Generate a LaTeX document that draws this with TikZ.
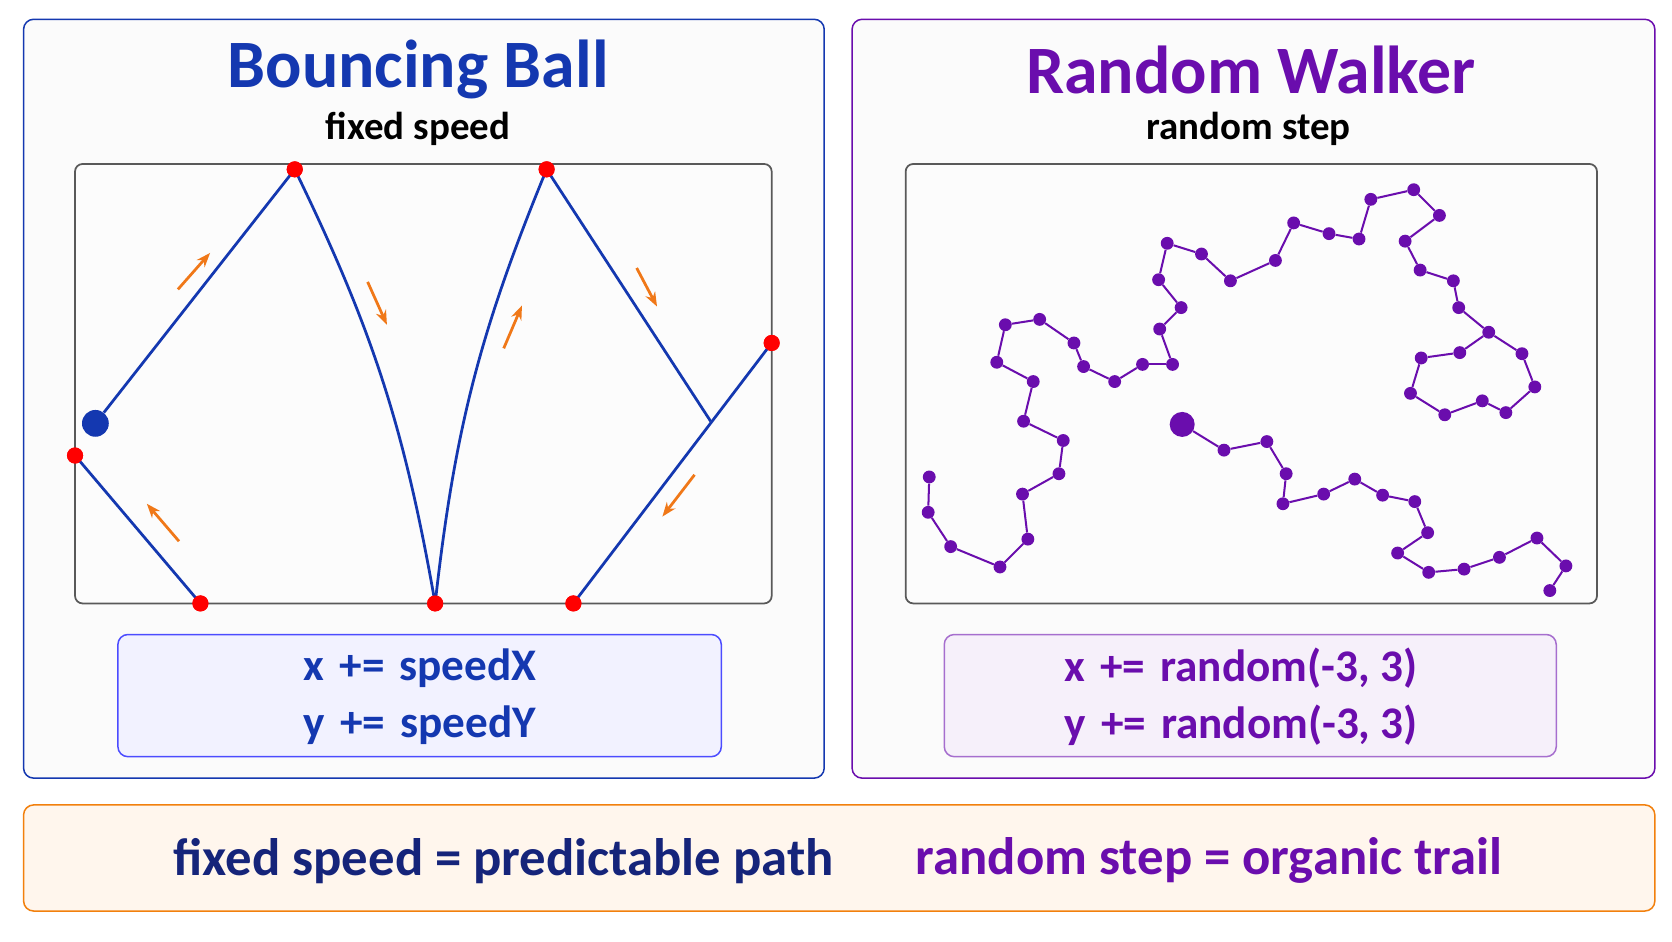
\documentclass[tikz,border=0pt]{standalone}
\usepackage{fontspec}
\setmainfont{Carlito}
\usetikzlibrary{arrows.meta}
\definecolor{ballblue}{HTML}{1438B0}
\definecolor{walkpurple}{HTML}{6A0DAD}
\definecolor{navy}{HTML}{15247A}
\definecolor{hotorange}{HTML}{F07818}

\begin{document}
\begin{tikzpicture}[x=0.03cm,y=-0.03cm,
    panel/.style={rounded corners=8pt, line width=1.2pt, fill=white!97!gray},
    court/.style={rounded corners=6pt, line width=1.4pt, draw=black!65, fill=white!98!gray},
    hit/.style={circle, fill=red, inner sep=0pt, minimum size=0.45cm},
    walkdot/.style={circle, fill=walkpurple, inner sep=0pt, minimum size=0.36cm},
    move/.style={hotorange, line width=2.2pt, -{Stealth[length=0.4cm]}},
    ballpath/.style={ballblue, line width=2.2pt}]
  \useasboundingbox (0,0) rectangle (1560,878);
  \fill[white] (0,0) rectangle (1560,878);

  % panels
  \draw[panel, draw=ballblue] (22,18) rectangle (769,726);
  \draw[panel, draw=walkpurple] (795,18) rectangle (1544,726);
  \draw[rounded corners=8pt, line width=1.2pt, draw=orange!80!brown, fill=orange!7] (22,751) rectangle (1544,850);

  % titles
  \node (balltitle) at (390,65) {\fontsize{54}{54}\selectfont\bfseries\color{ballblue}Bouncing Ball};
  \node (ballsub) at (390,120) {\fontsize{31}{31}\selectfont\bfseries fixed speed};
  \node (walktitle) at (1167,65) {\fontsize{54}{54}\selectfont\bfseries\color{walkpurple}Random Walker};
  \node (walksub) at (1165,120) {\fontsize{31}{31}\selectfont\bfseries random step};

  % courts
  \draw[court] (70,153) rectangle (720,563);
  \draw[court] (845,153) rectangle (1490,563);

  % bouncing ball path
  \node[hit] (h1) at (275,158) {};
  \node[hit] (h2) at (406,563) {};
  \node[hit] (h3) at (510,158) {};
  \node[hit] (h4) at (720,320) {};
  \node[hit] (h5) at (535,563) {};
  \node[hit] (h6) at (70,425) {};
  \node[hit] (h7) at (187,563) {};
  \coordinate (cross) at (663,393);
  \node[circle, fill=ballblue, inner sep=0pt, minimum size=0.75cm] (ball) at (89,395) {};
  \draw[ballpath] (ball) -- (h1.center);
  \draw[ballpath] (h1.center) to[bend left=8] (h2.center);
  \draw[ballpath] (h2.center) to[bend left=8] (h3.center);
  \draw[ballpath] (h3.center) -- (cross);
  \draw[ballpath] (h4.center) -- (h5.center);
  \draw[ballpath] (h6.center) -- (h7.center);
  \foreach \n in {h1,h2,h3,h4,h5,h6,h7} \node[hit] at (\n) {};

  % direction arrows
  \draw[move] (166,270) -- (196,236);
  \draw[move] (343,263) -- (361,303);
  \draw[move] (470,325) -- (487,285);
  \draw[move] (594,250) -- (613,286);
  \draw[move] (648,443) -- (618,482);
  \draw[move] (167,505) -- (137,470);

  % random walk
  \foreach \x/\y [count=\i] in {867/445,866/478,887/510,933/529,959/503,954/461,988/442,992/411,955/393,964/356,930/338,938/303,970/298,1002/320,1011/342,1040/356,1066/340,1094/340,1082/307,1102/287,1081/261,1089/227,1121/237,1148/262,1190/243,1207/208,1240/218,1268/223,1279/186,1319/177,1343/201,1311/225,1325/252,1356/262,1361/287,1389/310,1362/329,1326/334,1316/367,1348/387,1383/374,1405/385,1432/361,1420/330}
    \node[walkdot] (a\i) at (\x,\y) {};
  \foreach \i [evaluate=\i as \j using int(\i+1)] in {1,...,43}
    \draw[walkpurple, line width=1.6pt] (a\i) -- (a\j);
  \draw[walkpurple, line width=1.6pt] (a44) -- (a36);

  \node[circle, fill=walkpurple, inner sep=0pt, minimum size=0.7cm] (walker) at (1103,396) {};
  \foreach \x/\y [count=\i] in {1142/420,1182/412,1200/442,1197/470,1235/461,1264/447,1290/462,1320/468,1332/497,1304/516,1333/534,1366/531,1399/520,1434/502,1461/528,1446/551}
    \node[walkdot] (b\i) at (\x,\y) {};
  \draw[walkpurple, line width=1.6pt] (walker) -- (b1);
  \foreach \i [evaluate=\i as \j using int(\i+1)] in {1,...,15}
    \draw[walkpurple, line width=1.6pt] (b\i) -- (b\j);

  % update rules
  \draw[rounded corners=8pt, line width=1.2pt, draw=blue!70, fill=blue!5] (110,592) rectangle (673,706);
  \node[align=left, font=\fontsize{36}{46}\selectfont\bfseries, ballblue] (ballrule) at (392,650) {x\,\,+=\,\,speedX\\y\,\,+=\,\,speedY};
  \draw[rounded corners=8pt, line width=1.2pt, draw=walkpurple!60, fill=walkpurple!6] (881,592) rectangle (1452,706);
  \node[align=left, font=\fontsize{36}{46}\selectfont\bfseries, walkpurple] (walkrule) at (1158,650) {x\,\,+=\,\,random(-3, 3)\\y\,\,+=\,\,random(-3, 3)};

  % summary
  \node[font=\fontsize{42}{42}\selectfont\bfseries, navy] (fixedsum) at (470,803) {fixed speed = predictable path};
  \node[font=\fontsize{42}{42}\selectfont\bfseries, walkpurple] (randsum) at (1128,803) {random step = organic trail};
\end{tikzpicture}
\end{document}
